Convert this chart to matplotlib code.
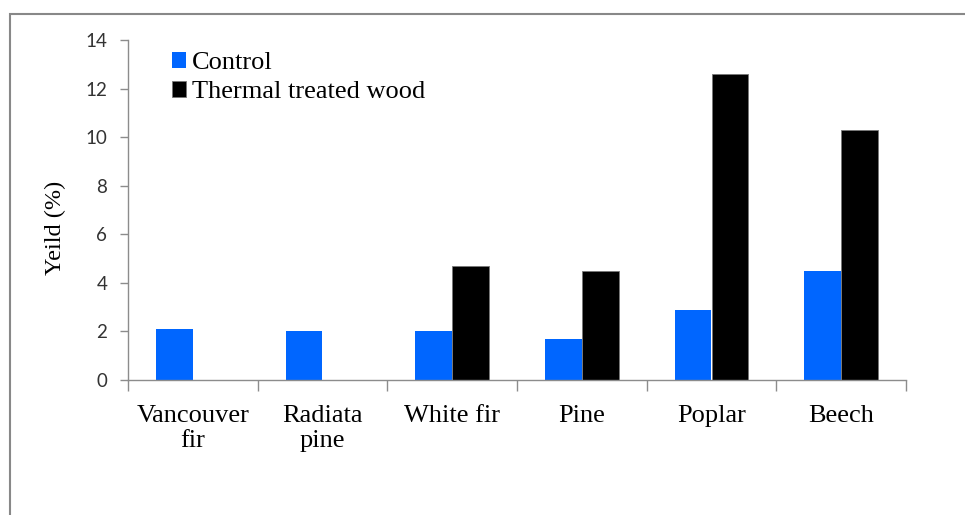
import numpy as np
import matplotlib.pyplot as plt
from matplotlib.patches import Rectangle

# Datos
species = ['Vancouver\nfir', 'Radiata\npine', 'White fir', 'Pine', 'Poplar', 'Beech']
control = [2.1, 2.0, 2.0, 1.7, 2.9, 4.5]
thermal = [0.0, 0.0, 4.7, 4.5, 12.6, 10.3]
y_ticks = [0, 2, 4, 6, 8, 10, 12, 14]

serif = ['Liberation Serif', 'DejaVu Serif']
axis_gray = '#8c8c8c'

fig = plt.figure(figsize=(9.65, 5.15), dpi=100)
ax = fig.add_axes([128 / 965, 1 - 380 / 515, 778 / 965, 340 / 515])

x = np.arange(len(species))
w = 0.285
ax.bar(x - w / 2, control, w, color='#0066FF', label='Control')
ax.bar(x + w / 2, thermal, w, color='black', edgecolor='#777777', linewidth=0.6,
       label='Thermal treated wood')

ax.set_xlim(-0.5, len(species) - 0.5)
ax.set_ylim(0, 14)
ax.set_yticks(y_ticks)
ax.set_yticklabels([str(t) for t in y_ticks], family=['Lato', 'DejaVu Sans'],
                   fontsize=13.5, color='#333333')
ax.set_xticks(x)
ax.set_xticklabels(species, family=serif, fontsize=19, linespacing=1.15)
ax.set_xticks(np.arange(-0.5, len(species)), minor=True)
ax.tick_params(axis='x', which='major', length=0, pad=18)
ax.tick_params(axis='x', which='minor', length=8, color=axis_gray, width=1)
ax.tick_params(axis='y', length=6, color=axis_gray, width=1, pad=9)

for s in ['top', 'right']:
    ax.spines[s].set_visible(False)
for s in ['left', 'bottom']:
    ax.spines[s].set_color(axis_gray)
    ax.spines[s].set_linewidth(1)

ax.set_ylabel('Yeild (%)', family=serif, fontsize=17.5)
ax.yaxis.set_label_coords(-0.080, 0.447)

leg = ax.legend(loc='upper left', bbox_to_anchor=(0.036, 1.012), frameon=False,
                prop={'family': serif, 'size': 19}, handlelength=0.55,
                handleheight=0.55, handletextpad=0.2, labelspacing=0.25,
                borderaxespad=0.2)

# Marco exterior
fig.patches.append(Rectangle((9.5 / 965, -0.05), 1.1, 1 - 13.5 / 515 + 0.05,
                             transform=fig.transFigure, fill=False,
                             edgecolor='#888888', linewidth=1.5))

fig.savefig('out.png', dpi=100)
